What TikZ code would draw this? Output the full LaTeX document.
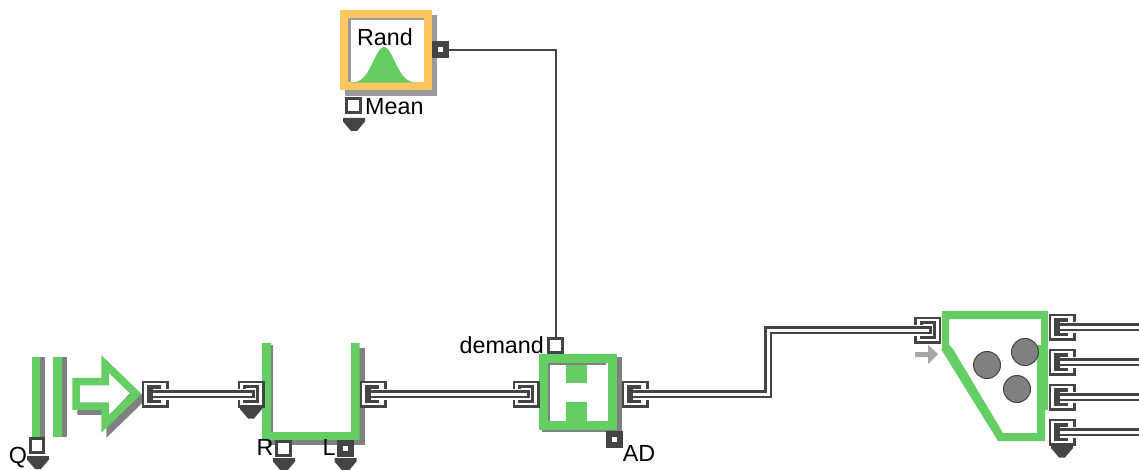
\documentclass[tikz,border=0pt]{standalone}
\usepackage{fontspec}
\setmainfont{Liberation Sans}
\definecolor{grn}{HTML}{64CD64}
\definecolor{org}{HTML}{FFC75F}
\definecolor{shd}{HTML}{808080}
\definecolor{drk}{HTML}{444444}
\tikzset{
  lbl/.style={inner sep=0pt,font=\fontsize{23.3}{24}\selectfont,text=black},
  portbox/.style={draw=drk,line width=2.5pt,fill=white,minimum size=24.5pt,inner sep=0pt},
  sigbox/.style={draw=drk,line width=2.6pt,fill=white,minimum size=13.5pt,inner sep=0pt},
  sigdark/.style={draw=drk,fill=drk,line width=0pt,minimum size=16pt,inner sep=0pt},
  wire/.style={preaction={draw=white,line width=11pt},
    draw=drk,line width=2.2pt,double=white,double distance=3pt,shorten <=-2pt,shorten >=-2pt},
  greenline/.style={draw=grn,line width=7.5pt,miter limit=6},
}
\newcommand{\dropmark}[2]{\fill[drk] (#1-11,#2) -- (#1+11,#2) -- (#1+11,#2+3.5) -- (#1+3,#2+13) -- (#1-3,#2+13) -- (#1-11,#2+3.5) -- cycle;}
\newcommand{\outblock}[2]{\fill[drk] (#1-8,#2-9) rectangle (#1+6,#2+9);}
\newcommand{\inblock}[2]{\fill[drk] (#1-8,#2-9) rectangle (#1+8,#2+9);\fill[white] (#1-5,#2-6) rectangle (#1+5,#2+6);}
\newcommand{\inend}[2]{\fill[drk] (#1+1,#2-4) rectangle (#1+4,#2+4);}
\begin{document}
\begin{tikzpicture}[x=1pt,y=-1pt]
\useasboundingbox (0,0) rectangle (1139,470);
\fill[white] (0,0) rectangle (1139,470);
% --- Rand block
\fill[shd!80] (345,15) rectangle (437,96);
\node[draw=org,line width=8pt,fill=white,minimum width=84pt,minimum height=72pt,inner sep=0pt] (rand) at (386,50) {};
\fill[shd!80] (348,18) rectangle (424,20.5);
\fill[shd!80] (348,18) rectangle (350.5,82);
\fill[grn] plot[domain=352:415,samples=50,smooth] ({\x},{83-36*exp(-((\x-384)*(\x-384))/(2*10.6*10.6))}) -- cycle;
\node[lbl] (randtxt) at (385,37) {Rand};
\node[sigdark] (randport) at (440,50) {};
\node[sigbox] (meanport) at (353.5,105.5) {};
\node[lbl,anchor=west] (meantxt) at (365,107) {Mean};
\dropmark{354}{118}
% --- Source: bars
\fill[shd] (40,357) rectangle (45,437);
\fill[grn] (32,357) rectangle (40,437);
\fill[shd] (62,357) rectangle (67,437);
\fill[grn] (53,357) rectangle (62,437);
\node[sigbox] (qport) at (37,445.5) {};
\node[lbl,anchor=center] (qtxt) at (18,458) {Q};
\dropmark{38}{456}
% --- Source arrow
\draw[draw=shd,line width=7.5pt,miter limit=6] (81,387) -- (110,387) -- (110,369) -- (141,399) -- (110,429) -- (110,411) -- (81,411) -- cycle;
\path[fill=white] (76,382) -- (105,382) -- (105,364) -- (136,394) -- (105,424) -- (105,406) -- (76,406) -- cycle;
\fill[shd] (82,402.5) rectangle (107,405);
\fill[shd] (132,391) -- (134,394) -- (108,421) -- (108,417) -- cycle;
\draw[greenline] (76,381.5) -- (105,381.5) -- (105,364) -- (136,394) -- (105,424) -- (105,406) -- (76,406) -- cycle;
% --- U queue
\fill[shd] (271,345) rectangle (273,432);
\fill[shd] (268,440) rectangle (364.5,445);
\fill[shd] (359,348) rectangle (364.5,445);
\fill[grn,even odd rule] (262,343) -- (271,343) -- (271,432) -- (351,432) -- (351,343) -- (359.5,343) -- (359.5,440) -- (262,440) -- cycle;
\node[sigbox] (rport) at (283.5,448.5) {};
\node[lbl] (rtxt) at (265,447) {R};
\dropmark{284}{458}
\node[sigdark] (lport) at (345.5,448) {};
\fill[white] (343,445.5) rectangle (348,450.5);
\node[lbl] (ltxt) at (329,447) {L};
\dropmark{345.5}{458}
% --- H block
\fill[shd] (542,357) rectangle (622,432);
\node[draw=grn,line width=8.5pt,fill=white,minimum width=69pt,minimum height=67pt,inner sep=0pt] (hblock) at (578,392) {};
\fill[shd] (548,363) rectangle (606,365);
\fill[shd] (548,363) rectangle (550,421);
\fill[grn] (566,365) rectangle (587,383);
\fill[grn] (566,402) rectangle (587,422);
\node[sigbox] (demandport) at (555.5,345.5) {};
\node[lbl,anchor=east] (demandtxt) at (544,345) {demand};
\node[sigdark] (adport) at (614,439.5) {};
\fill[white] (611.5,437) rectangle (616.5,442);
\node[lbl] (adtxt) at (639,453) {AD};
% --- Separator block
\fill[grn,even odd rule] (942,311) -- (1048,311) -- (1048,410) -- (1045,410) -- (1045,441) -- (998,441) -- (941,349) -- (942,348) -- cycle
 (949,319) -- (1041,319) -- (1041,345) -- (1037,345) -- (1037,433) -- (1003,433) -- (953,349) -- (949,345) -- cycle;
\foreach \n/\cx/\cy in {c1/987/365,c2/1025/352,c3/1017/389}
  \node[circle,draw=drk,line width=1pt,fill=shd,minimum size=27pt,inner sep=0pt] (\n) at (\cx,\cy) {};
\fill[shd!70] (915,352) -- (928,352) -- (928,345) -- (938,354) -- (928,364) -- (928,357) -- (915,357) -- cycle;
% --- Ports
\node[portbox] (p1) at (155,394) {}; \outblock{155}{394}
\node[portbox] (p2) at (251,394) {}; \inblock{251}{394}
\dropmark{251}{405.5}
\node[portbox] (p3) at (373,394) {}; \outblock{373}{394}
\node[portbox] (p4) at (526,394) {}; \inblock{526}{394}
\node[portbox] (p5) at (635,394) {}; \outblock{635}{394}
\node[portbox] (p6) at (927.5,330) {}; \inblock{927.5}{330}
\node[portbox] (o1) at (1062,327) {}; \outblock{1062}{327}
\node[portbox] (o2) at (1062,362) {}; \outblock{1062}{362}
\node[portbox] (o3) at (1062,397) {}; \outblock{1062}{397}
\node[portbox] (o4) at (1062,432) {}; \outblock{1062}{432}
\dropmark{1062}{444.5}
\coordinate (e1) at (1141,327);
\coordinate (e2) at (1141,362);
\coordinate (e3) at (1141,397);
\coordinate (e4) at (1141,432);
\coordinate (b1) at (768,394);
\coordinate (b2) at (768,330);
% --- Connectors
\draw[wire] (p1.center) -- (p2.center);
\draw[wire] (p3.center) -- (p4.center);
\draw[wire] (p5.center) -- (b1) -- (b2) -- (p6.center);
\draw[wire] (o1.center) -- (e1);
\draw[wire] (o2.center) -- (e2);
\draw[wire] (o3.center) -- (e3);
\draw[wire] (o4.center) -- (e4);
\inend{251}{394}\inend{526}{394}\inend{927.5}{330}
\draw[drk,line width=2pt] (randport.center) -| (demandport.north);
\fill[white] (437.5,47.5) rectangle (442.5,52.5);
\end{tikzpicture}
\end{document}
